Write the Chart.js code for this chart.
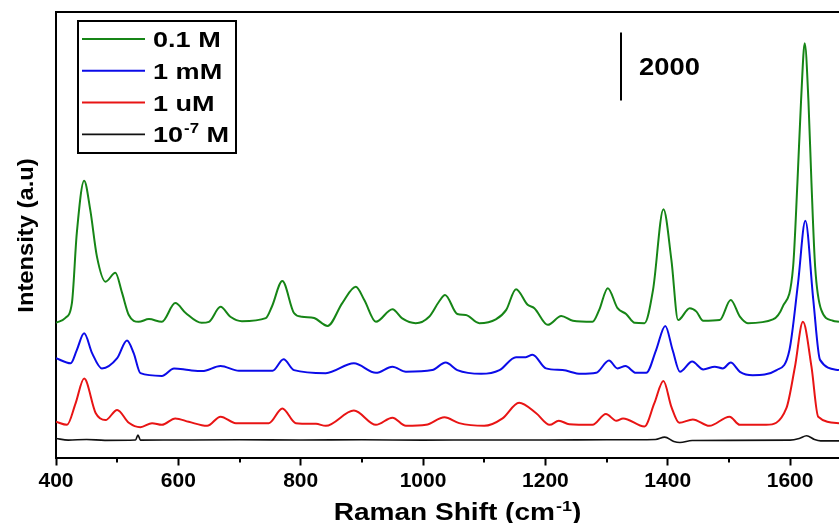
<!DOCTYPE html>
<html>
<head>
<meta charset="utf-8">
<script src="https://cdn.jsdelivr.net/npm/chart.js@4.4.1/dist/chart.umd.min.js"></script>
<style>
    html, body { margin: 0; padding: 0; background: #fff; overflow: hidden; }
    #wrap { position: relative; width: 839px; height: 523px; }
</style>
</head>
<body>
<div id="wrap"><canvas id="chartRaman"></canvas></div>
<script>
// Raman spectra (x = Raman shift in cm-1, y = intensity, a.u.)

const seriesLabels = ['0.1 M', '1 mM', '1 uM', '10-7 M'];
const seriesColors = ['#168516', '#0b0be8', '#e81414', '#111111'];

const shift01M = [400, 415, 426, 434, 446, 456, 467, 481, 497, 508, 519, 535, 552, 573, 595, 612, 638, 650, 669, 685, 704, 743, 753, 770, 789, 802, 822, 844, 868, 890, 904, 923, 950, 966, 988, 1010, 1026, 1036, 1056, 1070, 1092, 1119, 1136, 1152, 1171, 1182, 1204, 1226, 1245, 1277, 1288, 1302, 1318, 1332, 1346, 1362, 1376, 1393, 1406, 1417, 1436, 1447, 1458, 1485, 1503, 1518, 1531, 1572, 1588, 1605, 1612, 1618, 1624, 1630, 1635, 1641, 1651, 1670, 1680];
const int01M = [3960, 4100, 4540, 6600, 8140, 7280, 5900, 5170, 5430, 4840, 4190, 3990, 4070, 3990, 4540, 4250, 3960, 3990, 4430, 4140, 4010, 4100, 4440, 5190, 4250, 4140, 4100, 3870, 4540, 5020, 4630, 3990, 4360, 4090, 3950, 4140, 4580, 4780, 4220, 4190, 3950, 4060, 4340, 4950, 4490, 4390, 3900, 4160, 4020, 3990, 4340, 4980, 4390, 4220, 3960, 3950, 4930, 7300, 5810, 4040, 4390, 4290, 4020, 4040, 4630, 4140, 3950, 4060, 4440, 5610, 8070, 10500, 12180, 10500, 8070, 5610, 4340, 4020, 3990];

const shift1mM = [400, 424, 434, 446, 459, 475, 500, 516, 527, 538, 573, 593, 617, 639, 669, 699, 754, 772, 789, 841, 887, 923, 950, 972, 1015, 1037, 1056, 1095, 1125, 1152, 1168, 1179, 1201, 1228, 1258, 1283, 1304, 1318, 1331, 1348, 1365, 1381, 1396, 1408, 1420, 1440, 1458, 1477, 1490, 1503, 1518, 1539, 1578, 1599, 1613, 1625, 1638, 1649, 1680];
const int1mM = [2920, 2770, 3160, 3650, 3070, 2620, 2920, 3440, 3070, 2480, 2400, 2620, 2570, 2540, 2690, 2550, 2550, 2890, 2570, 2480, 2770, 2490, 2670, 2520, 2570, 2790, 2570, 2460, 2570, 2950, 2950, 3020, 2620, 2570, 2460, 2490, 2850, 2620, 2690, 2490, 2490, 3160, 3870, 3160, 2520, 2820, 2590, 2670, 2620, 2790, 2520, 2420, 2570, 3160, 5120, 6960, 4630, 2870, 2570];

const shift1uM = [400, 418, 432, 446, 465, 481, 500, 519, 538, 557, 573, 595, 617, 647, 669, 694, 748, 770, 792, 825, 841, 887, 923, 950, 972, 1005, 1035, 1059, 1100, 1130, 1157, 1185, 1207, 1222, 1239, 1277, 1299, 1316, 1327, 1362, 1378, 1393, 1406, 1419, 1441, 1468, 1501, 1518, 1561, 1594, 1608, 1621, 1635, 1646, 1680];
const int1uM = [1050, 960, 1590, 2320, 1300, 1100, 1400, 1020, 890, 1010, 960, 1150, 1050, 930, 1200, 1010, 1010, 1440, 1010, 990, 930, 1380, 960, 1170, 930, 960, 1180, 1010, 930, 1150, 1610, 1300, 960, 1080, 980, 960, 1280, 1080, 1150, 910, 1590, 2250, 1490, 1020, 1120, 930, 1200, 960, 960, 1450, 2670, 3990, 2670, 1200, 1010];

const shift1e7M = [400, 420, 450, 480, 530, 534, 538, 600, 700, 800, 900, 1000, 1100, 1200, 1300, 1380, 1395, 1410, 1420, 1440, 1500, 1600, 1615, 1627, 1640, 1650, 1680];
const int1e7M = [560, 510, 530, 505, 515, 660, 510, 515, 520, 515, 520, 510, 515, 515, 520, 530, 600, 470, 440, 500, 505, 510, 560, 640, 530, 490, 490];

const xTicks = [400, 600, 800, 1000, 1200, 1400, 1600];
const xMinorTicks = [500, 700, 900, 1100, 1300, 1500];

// scale bar: 2000 a.u.
const scaleBarX = 1323;
const scaleBarFrom = 10500;
const scaleBarSize = 2000;

const FONT = "'Liberation Sans', Arial, sans-serif";

function toPoints(xs, ys) {
    return xs.map((x, i) => ({ x: x, y: ys[i] }));
}

// text drawn a bit wider than Arial, like the original figure
function wideText(ctx, text, x, y, size, sx) {
    ctx.save();
    ctx.font = `bold ${size}px ${FONT}`;
    const w = ctx.measureText(text).width * sx;
    ctx.translate(x, y);
    ctx.scale(sx, 1);
    ctx.textAlign = 'left';
    ctx.textBaseline = 'alphabetic';
    ctx.fillStyle = '#000';
    ctx.fillText(text, 0, 0);
    ctx.restore();
    return w;
}

function textWidth(ctx, text, size, sx) {
    ctx.save();
    ctx.font = `bold ${size}px ${FONT}`;
    const w = ctx.measureText(text).width * sx;
    ctx.restore();
    return w;
}

const decorPlugin = {
    id: 'decor',
    afterDraw(chart) {
        const ctx = chart.ctx;
        const area = chart.chartArea;
        const xs = chart.scales.x;
        const ys = chart.scales.y;

        ctx.save();
        ctx.strokeStyle = '#000';
        ctx.lineWidth = 2;

        // top frame line
        ctx.beginPath();
        ctx.moveTo(area.left - 1, area.top);
        ctx.lineTo(chart.width, area.top);
        ctx.stroke();

        // minor ticks
        xMinorTicks.forEach(v => {
            const px = Math.round(xs.getPixelForValue(v));
            ctx.beginPath();
            ctx.moveTo(px, area.bottom);
            ctx.lineTo(px, area.bottom + 5);
            ctx.stroke();
        });

        // scale bar
        const bx = Math.round(xs.getPixelForValue(scaleBarX));
        const by0 = ys.getPixelForValue(scaleBarFrom);
        const by1 = ys.getPixelForValue(scaleBarFrom + scaleBarSize);
        ctx.beginPath();
        ctx.moveTo(bx, by0);
        ctx.lineTo(bx, by1);
        ctx.stroke();
        wideText(ctx, String(scaleBarSize), bx + 18, (by0 + by1) / 2 + 9, 24, 1.14);

        // legend box
        ctx.strokeRect(78, 21, 158, 132);
        seriesLabels.forEach((lab, i) => {
            const ly = 39 + i * 31.8;
            ctx.strokeStyle = seriesColors[i];
            ctx.lineWidth = i === 3 ? 1.6 : 2;
            ctx.beginPath();
            ctx.moveTo(82, ly);
            ctx.lineTo(145, ly);
            ctx.stroke();
            const base = ly + 8;
            if (lab.startsWith('10-7')) {
                let tx = 153;
                tx += wideText(ctx, '10', tx, base, 22, 1.23);
                tx += wideText(ctx, '-7', tx + 1, base - 9, 14, 1.2) + 1;
                wideText(ctx, ' M', tx, base, 22, 1.23);
            } else {
                wideText(ctx, lab, 153, base, 22, 1.23);
            }
        });

        // x axis title with superscript
        const p1 = 'Raman Shift (cm', p2 = '-1', p3 = ')';
        const w1 = textWidth(ctx, p1, 23, 1.22);
        const w2 = textWidth(ctx, p2, 15, 1.2);
        const w3 = textWidth(ctx, p3, 23, 1.22);
        let tx = 457.5 - (w1 + w2 + w3 + 1) / 2;
        const tb = 519.5;
        tx += wideText(ctx, p1, tx, tb, 23, 1.22);
        tx += wideText(ctx, p2, tx + 1, tb - 9, 15, 1.2) + 1;
        wideText(ctx, p3, tx, tb, 23, 1.22);

        // y axis title
        ctx.save();
        ctx.translate(33, 235.5);
        ctx.rotate(-Math.PI / 2);
        const yt = 'Intensity (a.u)';
        const wy = textWidth(ctx, yt, 22, 1.08);
        wideText(ctx, yt, -wy / 2, 0, 22, 1.08);
        ctx.restore();

        ctx.restore();
    }
};

const ctx = document.getElementById('chartRaman');

const spectra = [
    toPoints(shift01M, int01M),
    toPoints(shift1mM, int1mM),
    toPoints(shift1uM, int1uM),
    toPoints(shift1e7M, int1e7M)
];

new Chart(ctx, {
    type: 'line',
    data: {
        datasets: spectra.map((pts, i) => ({
            label: seriesLabels[i],
            data: pts,
            borderColor: seriesColors[i],
            borderWidth: i === 3 ? 1.6 : 2,
            pointRadius: 0,
            fill: false,
            cubicInterpolationMode: 'monotone'
        }))
    },
    options: {
        responsive: true,
        maintainAspectRatio: false,
        animation: false,
        devicePixelRatio: 1,
        layout: { padding: { top: 12, left: 0, right: 0, bottom: 0 } },
        plugins: {
            legend: { display: false },
            tooltip: { enabled: false }
        },
        scales: {
            x: {
                type: 'linear',
                min: 400,
                max: 1680,
                afterFit: s => { s.height = 65.5; },
                afterBuildTicks: s => { s.ticks = xTicks.map(v => ({ value: v })); },
                border: { color: '#000', width: 2 },
                grid: {
                    display: true,
                    drawOnChartArea: false,
                    drawTicks: true,
                    tickLength: 8,
                    tickWidth: 2,
                    tickColor: '#000'
                },
                ticks: {
                    color: '#000',
                    padding: 3,
                    maxRotation: 0,
                    autoSkip: false,
                    callback: v => String(v),
                    font: { family: FONT, size: 21, weight: 'bold' }
                }
            },
            y: {
                min: 0,
                max: 13100,
                afterFit: s => { s.width = 56; },
                border: { color: '#000', width: 2 },
                grid: { display: false },
                ticks: { display: false }
            }
        }
    },
    plugins: [decorPlugin]
});
</script>
</body>
</html>
